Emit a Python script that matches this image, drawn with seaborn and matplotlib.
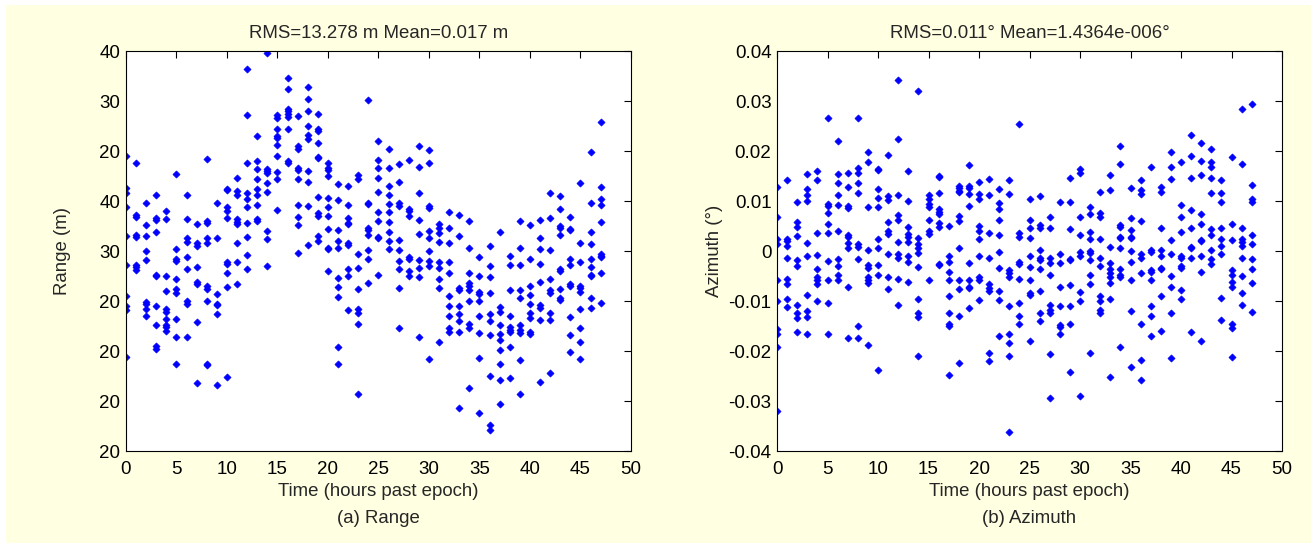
import numpy as np
import pandas as pd
import matplotlib
matplotlib.use('Agg')
import matplotlib.pyplot as plt
import seaborn as sns

hours = list(range(48))

# range residuals per hour (m)
range_vals = [
    [19.1, 12.6, 11.6, 8.8, 3.1, -2.7, -9.0, -10.9, -11.7, -21.1],
    [17.7, 7.3, 6.9, 3.3, 2.9, -2.7, -3.2, -3.8],
    [9.7, 5.2, 3.1, 0.0, -1.8, -10.2, -10.6, -11.5, -13.0],
    [11.3, 6.6, 6.3, 3.8, -4.7, -5.0, -11.0, -14.7, -19.0, -19.6],
    [8.1, 6.4, -5.0, -7.9, -11.5, -12.1, -13.5, -14.7, -15.2, -16.0],
    [15.5, 0.5, -1.6, -2.0, -5.5, -7.6, -8.3, -13.5, -17.1, -22.5],
    [11.3, 6.4, 2.6, 1.9, -1.2, -3.6, -9.9, -10.6, -17.1],
    [5.4, 1.6, 1.0, -3.1, -6.2, -6.5, -14.2, -26.3],
    [18.4, 6.1, 5.7, 2.6, 1.7, -6.9, -7.6, -9.9, -22.5, -22.7],
    [9.7, 2.6, -8.5, -10.6, -10.8, -12.5, -26.7],
    [12.5, 12.2, 8.8, 8.1, 6.6, -2.2, -2.6, -4.3, -7.1, -25.1],
    [14.6, 12.1, 11.3, 6.4, 5.9, 5.5, 1.7, -2.2, -6.5],
    [36.4, 27.2, 17.6, 11.6, 10.4, 8.8, 5.7, 2.9, -0.7, -3.6],
    [23.0, 18.1, 16.5, 14.4, 12.4, 11.3, 9.2, 6.4, 6.1],
    [39.7, 16.5, 16.0, 15.6, 13.7, 11.8, 4.1, 2.5, -2.9],
    [27.3, 26.6, 24.4, 23.0, 22.7, 21.2, 19.1, 15.8, 14.4, 8.3],
    [34.7, 32.4, 28.4, 28.0, 27.5, 26.8, 24.4, 18.1, 17.7],
    [27.0, 21.0, 20.5, 16.6, 16.2, 14.4, 9.2, 6.9, 5.2, -0.4],
    [32.9, 30.5, 28.0, 25.1, 23.2, 22.5, 16.0, 13.9, 9.0, 1.2],
    [27.5, 24.4, 24.1, 21.6, 18.9, 18.7, 10.9, 7.7, 7.1, 3.1, 2.0],
    [17.6, 16.7, 16.2, 15.0, 10.6, 8.8, 7.1, 4.5, 0.7, 0.4, -3.9],
    [13.5, 10.2, 4.3, 2.0, 0.7, -5.4, -7.2, -9.2, -19.1, -22.5],
    [13.0, 9.2, 6.6, 5.7, 5.4, 1.6, 1.2, -3.6, -5.0, -11.8],
    [15.2, 14.5, -0.5, -3.3, -7.6, -11.5, -12.4, -14.5, -28.6],
    [30.3, 9.7, 9.4, 4.7, 4.3, 3.3, 0.2, -1.6, -6.3],
    [22.0, 18.3, 16.6, 14.6, 11.8, 7.9, 6.1, 2.9, 2.6, -4.8],
    [20.5, 16.7, 13.0, 11.3, 9.5, 7.8, 5.9, 3.9, 2.0, 0.4],
    [17.5, 13.9, 9.7, 9.0, 2.3, 0.3, -1.9, -3.5, -7.4, -15.3],
    [18.2, 8.5, 8.0, 7.1, -1.2, -1.6, -4.0, -5.0],
    [21.1, 16.9, 11.6, 6.3, 3.4, -1.7, -3.3, -5.2, -17.1],
    [20.3, 17.7, 9.0, 8.6, 4.1, 2.7, 0.0, -1.9, -2.9, -21.6],
    [5.4, 4.7, 3.6, 1.8, -2.1, -3.3, -5.6, -7.4, -18.2],
    [7.8, 4.7, 1.6, -2.1, -4.3, -9.0, -10.9, -13.0, -15.3, -16.2],
    [7.3, 3.1, -7.3, -7.8, -10.9, -12.6, -14.0, -16.2, -31.3],
    [6.1, 0.7, -4.3, -6.3, -7.0, -7.8, -9.9, -14.6, -15.4, -27.3],
    [-1.2, -5.0, -8.1, -8.5, -10.0, -13.0, -16.4, -21.4, -32.4],
    [1.0, -2.9, -5.2, -8.3, -12.6, -14.0, -16.8, -24.9, -34.7, -35.8],
    [3.8, -11.2, -12.1, -14.7, -16.6, -17.7, -19.8, -22.5, -25.8, -30.5],
    [-0.9, -2.7, -7.8, -13.0, -15.1, -15.7, -16.2, -19.1, -25.3],
    [6.1, 0.7, -2.7, -7.8, -9.3, -14.7, -15.7, -16.3, -21.8, -28.6],
    [5.2, -1.6, -7.0, -8.8, -10.6, -12.3, -13.3, -16.1, -16.6],
    [6.3, 2.6, 0.5, -2.6, -6.1, -10.8, -11.3, -13.7, -26.1],
    [11.6, 6.6, 0.3, -5.6, -7.8, -8.3, -12.3, -13.7, -24.3],
    [11.1, 8.5, 5.0, 4.6, 3.3, -3.6, -4.0, -7.6, -9.3, -9.7],
    [6.9, 4.5, 4.3, -1.6, -2.8, -6.5, -6.9, -13.2, -16.8, -20.2],
    [13.7, 1.6, -2.2, -6.9, -7.4, -8.1, -11.6, -15.3, -18.2, -21.6],
    [19.9, 9.7, 3.9, 1.4, -1.6, -3.1, -4.7, -5.0, -9.3, -11.4],
    [25.8, 12.8, 10.4, 9.2, 5.9, -0.5, -0.9, -1.2, -4.3, -10.4],
]

# azimuth residuals per hour (thousandths of a degree)
azimuth_vals = [
    [12.8, 6.9, 2.5, 1.5, -5.8, -10.0, -15.5, -16.6, -19.2, -32.0],
    [14.2, 2.4, 2.0, 1.0, -1.3, -5.5, -6.5, -9.6, -11.2],
    [9.8, 5.8, 4.9, 3.0, -1.8, -3.0, -10.7, -12.4, -13.4, -16.1],
    [15.4, 12.4, 11.2, 10.0, 1.6, -0.9, -8.7, -12.0, -13.1, -16.6],
    [16.1, 14.3, 3.6, -0.7, -3.5, -5.1, -5.7, -6.6, -10.0],
    [26.6, 9.5, 9.0, 7.7, 5.4, 3.6, -2.0, -5.7, -10.3, -16.6],
    [22.0, 15.4, 13.6, 11.2, 9.3, 4.1, -1.6, -3.0, -4.8, -5.8],
    [15.7, 12.8, 9.1, 8.6, 3.2, 2.9, 1.6, 0.7, -7.1, -17.3],
    [26.6, 16.6, 15.6, 13.6, 11.7, 1.5, 0.8, -1.6, -15.0, -17.3],
    [19.9, 17.9, 8.8, 0.2, -2.7, -3.4, -5.1, -5.8, -6.4, -18.8],
    [16.5, 16.3, 12.4, 10.7, 8.8, 2.5, 0.6, -2.8, -4.8, -23.8],
    [19.2, 11.0, 10.2, 5.9, 4.1, 3.4, -0.5, -5.2, -7.5],
    [34.3, 22.4, 11.2, 7.2, 6.3, 1.8, -0.5, -1.3, -5.5, -10.8],
    [16.1, 10.0, 4.8, 3.4, 2.9, 1.8, -0.9, -2.1, -6.1],
    [32.0, 2.7, 1.5, 0.6, -0.3, -3.2, -9.6, -12.4, -13.1, -20.9],
    [11.2, 10.5, 9.5, 8.9, 6.3, 4.1, 3.4, -5.8],
    [15.0, 14.8, 11.7, 8.4, 7.9, 7.4, 5.6, 4.8, -2.5, -2.8],
    [5.0, -0.9, -2.2, -4.1, -5.8, -8.9, -12.4, -14.5, -15.0, -24.7],
    [13.1, 12.7, 12.1, 11.8, 7.0, 6.0, 0.6, -5.7, -7.5, -12.9, -22.3],
    [17.2, 13.1, 12.6, 11.5, 9.1, -2.3, -5.7, -7.1, -7.4, -11.4],
    [13.8, 11.5, 10.5, 5.1, 4.1, 2.5, -0.9, -5.1, -5.8, -9.8],
    [14.5, 11.2, 3.6, -1.3, -6.5, -7.3, -8.0, -20.4, -22.0],
    [12.4, 9.6, 8.4, 6.3, 3.2, -0.2, -3.4, -7.9, -9.8, -17.0],
    [14.2, 11.4, -3.7, -4.4, -5.1, -11.0, -16.6, -18.3, -20.9, -36.2],
    [25.4, 3.7, 2.9, -2.2, -2.5, -5.5, -10.3, -12.9, -14.5],
    [10.5, 6.3, 4.6, 2.7, -0.9, -3.2, -5.7, -8.4, -8.7, -17.9],
    [11.0, 5.2, 4.7, 0.3, -1.3, -1.8, -3.6, -8.0, -12.4, -13.9],
    [6.8, 4.7, -1.3, -2.3, -4.8, -10.7, -11.7, -12.4, -20.5, -29.3],
    [9.8, -0.5, -2.3, -7.2, -11.0, -14.8, -15.2, -16.6],
    [14.7, 9.8, 4.5, -1.6, -1.7, -6.8, -11.0, -14.5, -24.1],
    [16.5, 15.6, 6.9, 3.2, -0.2, -0.9, -8.2, -10.0, -28.9],
    [8.9, 7.4, 3.9, 2.5, 0.1, -0.4, -1.8, -4.8, -6.5, -20.4],
    [11.9, 7.7, 6.8, 2.5, -1.3, -3.0, -8.9, -10.0, -11.7, -12.4],
    [15.2, 12.2, 0.8, -2.3, -3.6, -4.4, -5.1, -6.4, -9.6, -25.2],
    [21.1, 17.4, 5.3, 4.9, 2.9, 2.6, 0.6, -3.6, -4.8, -5.1, -19.2],
    [12.6, 6.7, 4.3, 2.9, 2.6, 0.1, -2.2, -5.7, -12.0, -23.2],
    [14.3, 12.2, 11.5, 6.1, -0.6, -1.3, -4.4, -14.5, -21.8, -25.8],
    [16.9, 0.2, -0.2, -3.7, -4.1, -5.7, -11.0, -12.9, -16.9],
    [12.9, 11.9, 4.7, 0.2, -0.9, -3.4, -3.6, -8.9, -15.9],
    [19.9, 16.9, 14.5, 2.2, -0.6, -5.0, -7.2, -12.4, -21.3],
    [17.8, 9.3, 6.9, 3.9, -0.9, -1.3, -3.0, -3.4, -7.7, -9.6],
    [23.3, 19.0, 14.7, 8.2, 4.7, 0.9, 0.6, -1.3, -16.1],
    [21.7, 18.1, 15.2, 7.4, 5.4, 2.2, 2.0, -0.9, -4.1, -17.9],
    [20.4, 17.8, 16.8, 14.7, 11.7, 4.4, 3.2, 0.3, -1.5, -2.5],
    [14.3, 11.7, 9.8, 4.6, 2.5, 1.0, -0.6, -9.3, -13.8],
    [18.8, 5.4, 2.2, -3.7, -4.8, -6.1, -7.2, -14.5, -15.4, -21.1],
    [28.4, 17.4, 4.7, 2.5, 1.8, 1.1, -1.3, -4.9, -8.4, -10.8],
    [29.4, 13.3, 10.5, 9.8, 3.2, 1.5, -1.5, -3.6, -6.4, -12.2],
]

range_ticks = [-40, -30, -20, -10, 0, 10, 20, 30, 40]
range_ticklabels = ['20', '20', '20', '20', '30', '40', '20', '30', '40']
az_ticks = [-0.04, -0.03, -0.02, -0.01, 0, 0.01, 0.02, 0.03, 0.04]
az_ticklabels = ['-0.04', '-0.03', '-0.02', '-0.01', '0', '0.01', '0.02', '0.03', '0.04']
x_ticks = [0, 5, 10, 15, 20, 25, 30, 35, 40, 45, 50]

df_range = pd.DataFrame({
    'hour': [h for h, vals in zip(hours, range_vals) for _ in vals],
    'value': [v for vals in range_vals for v in vals],
})
df_az = pd.DataFrame({
    'hour': [h for h, vals in zip(hours, azimuth_vals) for _ in vals],
    'value': [v / 1000.0 for vals in azimuth_vals for v in vals],
})

sns.set_theme(style="white")
plt.rcParams['font.family'] = ['Liberation Sans', 'DejaVu Sans']

bg = '#FFFFE1'
fig = plt.figure(figsize=(13.11, 5.43), dpi=100, facecolor='white')
# cream panel with a thin white margin on left and top
panel = plt.Rectangle((6 / 1311, 0), 1 - 6 / 1311, 1 - 5 / 543,
                      transform=fig.transFigure, facecolor=bg,
                      edgecolor='none', zorder=-10)
fig.add_artist(panel)
ax1 = fig.add_axes([0.0961, 0.1689, 0.3852, 0.7366])
ax2 = fig.add_axes([0.5927, 0.1689, 0.3852, 0.7366])

panels = [
    (ax1, df_range, (-40, 40), range_ticks, range_ticklabels,
     'RMS=13.278 m Mean=0.017 m', 'Range (m)', '(a) Range'),
    (ax2, df_az, (-0.04, 0.04), az_ticks, az_ticklabels,
     'RMS=0.011\u00b0 Mean=1.4364e-006\u00b0', 'Azimuth (\u00b0)', '(b) Azimuth'),
]

fs = 13.4
for ax, df, ylim, yt, ytl, title, ylabel, caption in panels:
    sns.scatterplot(data=df, x='hour', y='value', ax=ax, marker='D', s=13,
                    color='#0000FF', edgecolor='#0000FF', linewidth=0.5)
    ax.set_facecolor('white')
    ax.set_xlim(0, 50)
    ax.set_ylim(*ylim)
    ax.set_xticks(x_ticks)
    ax.set_xticklabels([str(t) for t in x_ticks])
    ax.set_yticks(yt)
    ax.set_yticklabels(ytl)
    ax.tick_params(direction='in', length=5, width=0.8, top=True, right=True,
                   labelsize=13.5, color='black', labelcolor='black', pad=4)
    ax.tick_params(axis='x', pad=7)
    for sp in ax.spines.values():
        sp.set_color('black')
        sp.set_linewidth(0.8)
    ax.text(0.5, 1 + 17.7 / 400, title, transform=ax.transAxes,
            ha='center', va='center', fontsize=fs)
    ax.set_ylabel(ylabel, fontsize=fs)
    ax.yaxis.set_label_coords(-63 / 505, 0.5)
    ax.set_xlabel('Time (hours past epoch)', fontsize=fs)
    ax.xaxis.set_label_coords(0.5, -40.7 / 400)
    ax.xaxis.label.set_va('center')
    ax.yaxis.label.set_va('center')
    ax.text(0.5, -67.7 / 400, caption, transform=ax.transAxes, ha='center',
            va='center', fontsize=fs)

fig.savefig('out.png', dpi=100, facecolor='white')
